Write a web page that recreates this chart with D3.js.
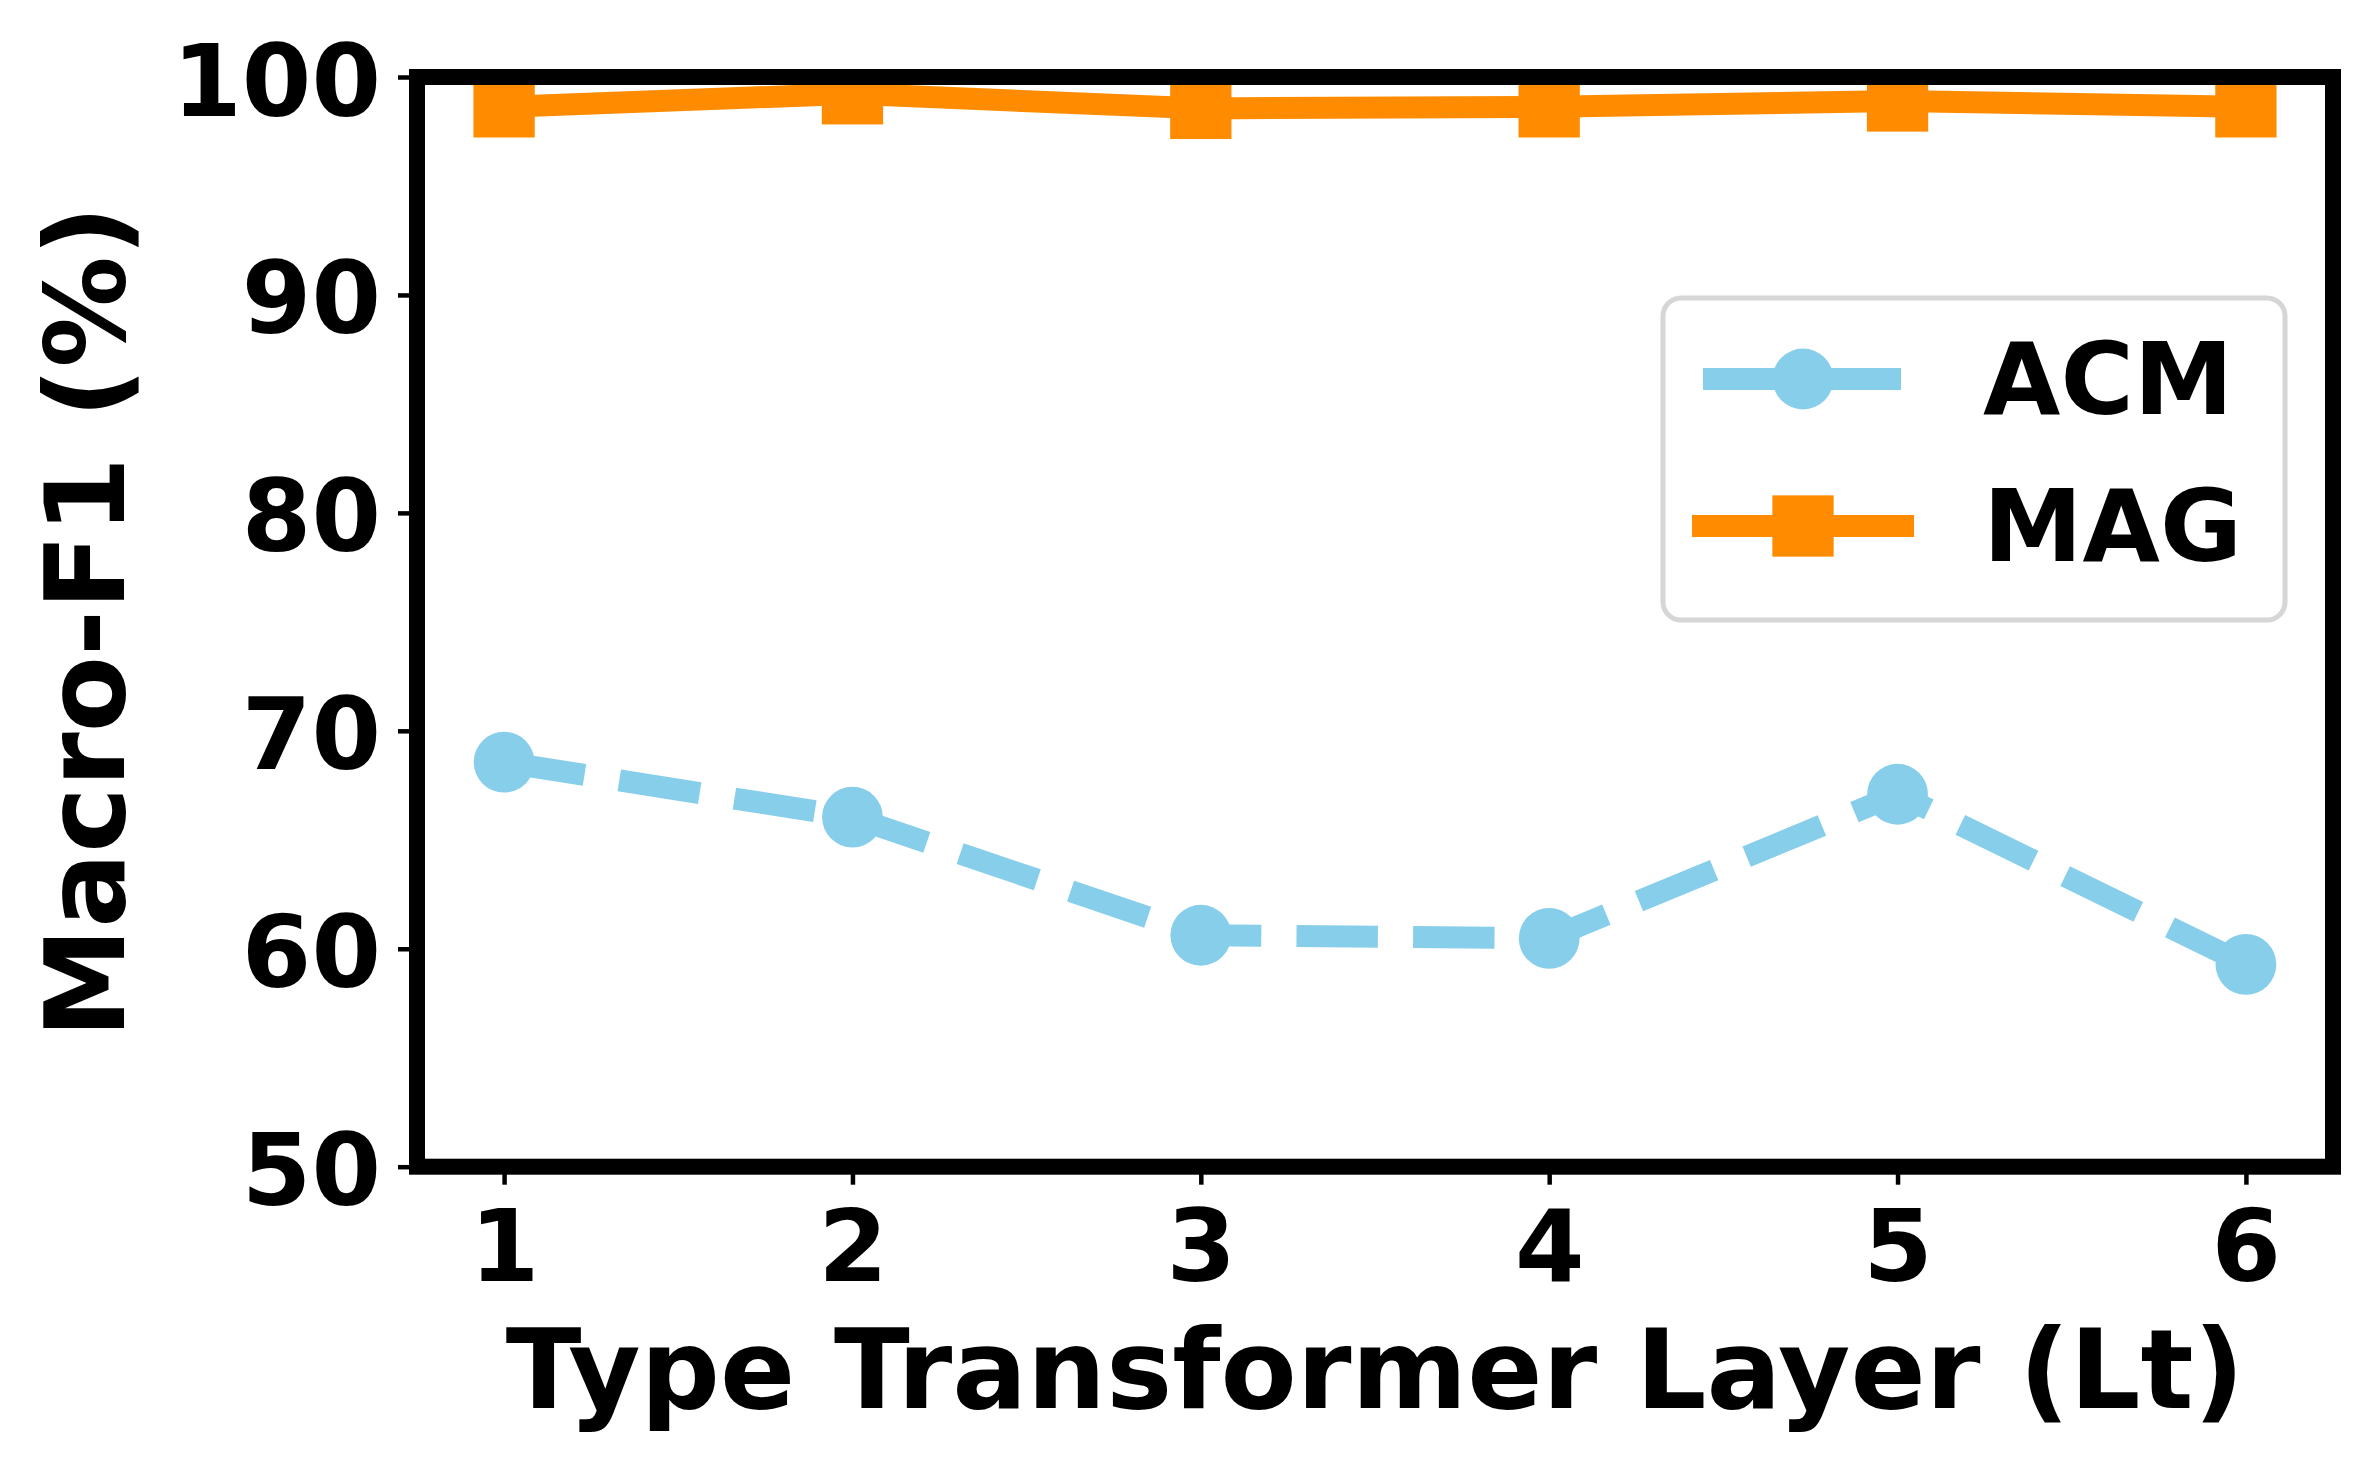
<!DOCTYPE html>
<meta charset="utf-8">
<html>
<head>
    <style>
        body {
            margin: 0;
            background: #fff;
        }
        text {
            font-family: "DejaVu Sans", sans-serif;
            font-weight: bold;
        }
    </style>
</head>
<body>
<script src="https://d3js.org/d3.v7.min.js"></script>
<script>
    // values
    var layers = [1, 2, 3, 4, 5, 6];
    var acmF1 = [68.56, 66.04, 60.62, 60.48, 67.09, 59.28];
    var magF1 = [98.63, 99.23, 98.56, 98.63, 98.90, 98.63];
    var yTicks = [50, 60, 70, 80, 90, 100];
    var seriesNames = ["ACM", "MAG"];
    var seriesColors = ["#87CEEB", "#FF8C00"];

    var W = 2373, H = 1472;
    var plotL = 417, plotR = 2333, plotT = 77, plotB = 1166.7;
    var lw = 22;

    var svg = d3.select("body").append("svg")
        .attr("width", W)
        .attr("height", H);

    svg.append("rect").attr("width", W).attr("height", H).attr("fill", "#fff");

    var x = d3.scaleLinear().domain([0.75, 6.25]).range([plotL, plotR]);
    var y = d3.scaleLinear().domain([50, 100]).range([plotB, plotT]);

    svg.append("clipPath").attr("id", "plotclip")
        .append("rect")
        .attr("x", plotL).attr("y", plotT)
        .attr("width", plotR - plotL).attr("height", plotB - plotT);

    var plot = svg.append("g").attr("clip-path", "url(#plotclip)");

    var acmData = layers.map(function(d, i) { return {x: d, y: acmF1[i]}; });
    var magData = layers.map(function(d, i) { return {x: d, y: magF1[i]}; });

    var line = d3.line()
        .x(function(d) { return x(d.x); })
        .y(function(d) { return y(d.y); });

    // ACM: dashed with circles
    plot.append("path")
        .datum(acmData)
        .attr("d", line)
        .attr("fill", "none")
        .attr("stroke", seriesColors[0])
        .attr("stroke-width", lw)
        .attr("stroke-linejoin", "round")
        .attr("stroke-linecap", "butt")
        .attr("stroke-dasharray", (3.7 * lw) + "," + (1.6 * lw));

    plot.selectAll(".acm-dot")
        .data(acmData)
        .enter().append("circle")
        .attr("class", "acm-dot")
        .attr("cx", function(d) { return x(d.x); })
        .attr("cy", function(d) { return y(d.y); })
        .attr("r", 30.4)
        .attr("fill", seriesColors[0]);

    // MAG: solid with squares
    plot.append("path")
        .datum(magData)
        .attr("d", line)
        .attr("fill", "none")
        .attr("stroke", seriesColors[1])
        .attr("stroke-width", lw)
        .attr("stroke-linejoin", "round")
        .attr("stroke-linecap", "square");

    var sq = 61.3;
    plot.selectAll(".mag-dot")
        .data(magData)
        .enter().append("rect")
        .attr("class", "mag-dot")
        .attr("x", function(d) { return x(d.x) - sq / 2; })
        .attr("y", function(d) { return y(d.y) - sq / 2; })
        .attr("width", sq)
        .attr("height", sq)
        .attr("fill", seriesColors[1]);

    // axes
    var yAxis = svg.append("g")
        .attr("transform", "translate(" + plotL + ",0)")
        .call(d3.axisLeft(y).tickValues(yTicks).tickSize(19).tickPadding(17));
    var xAxis = svg.append("g")
        .attr("transform", "translate(0," + plotB + ")")
        .call(d3.axisBottom(x).tickValues(layers).tickSize(18).tickFormat(d3.format("d")));

    [yAxis, xAxis].forEach(function(ax) {
        ax.select(".domain").remove();
        ax.selectAll(".tick line").attr("stroke", "#000").attr("stroke-width", 4.5);
        ax.selectAll(".tick text")
            .attr("fill", "#000")
            .style("font-size", "100px")
            .style("font-family", "'DejaVu Sans'")
            .style("font-weight", "bold");
    });
    yAxis.selectAll(".tick text").attr("dy", "0.38em");
    xAxis.selectAll(".tick text").attr("dy", null).attr("y", 114.3);

    // spines
    svg.append("rect")
        .attr("x", plotL).attr("y", plotT)
        .attr("width", plotR - plotL).attr("height", plotB - plotT)
        .attr("fill", "none")
        .attr("stroke", "#000")
        .attr("stroke-width", 16)
        .attr("stroke-linejoin", "miter");

    // axis labels
    svg.append("text")
        .attr("x", (plotL + plotR) / 2)
        .attr("y", 1408)
        .attr("text-anchor", "middle")
        .style("font-size", "111px")
        .text("Type Transformer Layer (Lt)");

    svg.append("text")
        .attr("transform", "translate(124," + ((plotT + plotB) / 2) + ") rotate(-90)")
        .attr("text-anchor", "middle")
        .style("font-size", "111px")
        .text("Macro-F1 (%)");

    // legend
    var lg = svg.append("g");
    lg.append("rect")
        .attr("x", 1663).attr("y", 298)
        .attr("width", 622).attr("height", 322)
        .attr("rx", 18).attr("ry", 18)
        .attr("fill", "#fff")
        .attr("stroke", "#d6d6d6")
        .attr("stroke-width", 5);

    var rowY = [379, 526];
    var hx0 = 1703, hx1 = 1903, hxm = 1803;
    seriesNames.forEach(function(name, i) {
        var g = lg.append("g");
        var l = g.append("line")
            .attr("x1", hx0).attr("x2", hx1)
            .attr("y1", rowY[i]).attr("y2", rowY[i])
            .attr("stroke", seriesColors[i])
            .attr("stroke-width", lw);
        if (i === 0) {
            l.attr("stroke-dasharray", (3.7 * lw) + "," + (1.6 * lw)).attr("stroke-linecap", "butt");
            g.append("circle").attr("cx", hxm).attr("cy", rowY[i]).attr("r", 30.4).attr("fill", seriesColors[i]);
        } else {
            l.attr("stroke-linecap", "square");
            g.append("rect").attr("x", hxm - sq / 2).attr("y", rowY[i] - sq / 2)
                .attr("width", sq).attr("height", sq).attr("fill", seriesColors[i]);
        }
        g.append("text")
            .attr("x", 1983)
            .attr("y", rowY[i] + 35)
            .style("font-size", "100px")
            .text(name);
    });
</script>
</body>
</html>
